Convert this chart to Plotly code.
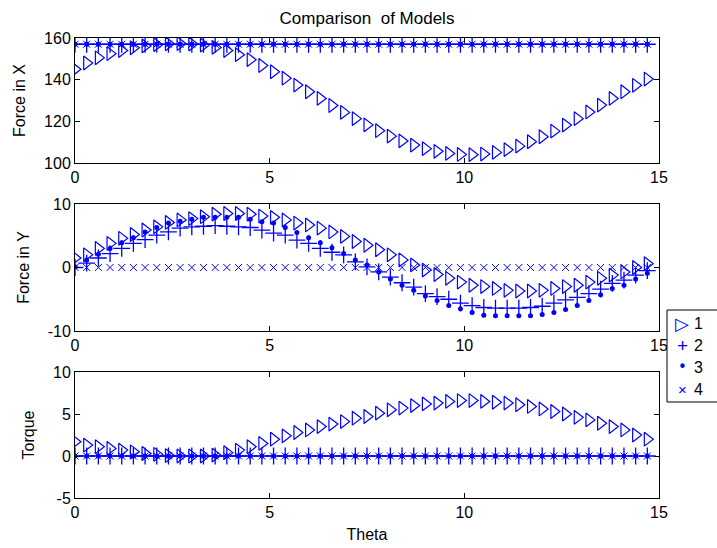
import plotly.graph_objects as go

theta = [0.0, 0.3, 0.6, 0.9, 1.2, 1.5, 1.8, 2.1, 2.4, 2.7,
         3.0, 3.3, 3.6, 3.9, 4.2, 4.5, 4.8, 5.1, 5.4, 5.7,
         6.0, 6.3, 6.6, 6.9, 7.2, 7.5, 7.8, 8.1, 8.4, 8.7,
         9.0, 9.3, 9.6, 9.9, 10.2, 10.5, 10.8, 11.1, 11.4, 11.7,
         12.0, 12.3, 12.6, 12.9, 13.2, 13.5, 13.8, 14.1, 14.4, 14.7]

# Force in X
fx1 = [145.0, 148.0, 150.5, 152.5, 154.0, 155.3, 156.2, 156.8, 157.2, 157.3,
       157.1, 156.6, 155.5, 154.0, 152.0, 149.6, 146.8, 143.8, 140.7, 137.4,
       134.2, 131.0, 127.6, 124.3, 121.3, 118.3, 115.5, 112.9, 110.6, 108.6,
       106.9, 105.6, 104.6, 104.1, 104.0, 104.3, 105.1, 106.4, 108.1, 110.2,
       112.6, 115.3, 118.2, 121.3, 124.5, 127.8, 131.0, 134.2, 137.3, 140.3]
fx_const = 157.0
fx2 = [fx_const] * len(theta)
fx3 = [fx_const] * len(theta)
fx4 = [fx_const] * len(theta)

# Force in Y
fy1 = [1.5, 2.0, 3.0, 3.8, 4.6, 5.2, 5.9, 6.4, 7.1, 7.5,
       7.7, 8.0, 8.4, 8.5, 8.5, 8.4, 8.1, 7.9, 7.5, 7.0,
       6.7, 6.2, 5.6, 4.9, 4.1, 3.5, 2.8, 2.0, 1.2, 0.4,
       -0.4, -1.1, -1.7, -2.3, -2.8, -3.0, -3.3, -3.6, -3.7, -3.7,
       -3.6, -3.3, -3.0, -2.8, -2.3, -1.7, -1.2, -0.7, 0.0, 0.6]
fy2 = [0.0, 0.7, 1.5, 2.2, 3.0, 3.8, 4.4, 5.1, 5.6, 6.2,
       6.4, 6.5, 6.6, 6.5, 6.4, 6.3, 5.9, 5.4, 5.1, 4.3,
       3.8, 3.0, 2.4, 2.0, 0.9, 0.1, -0.7, -1.5, -2.4, -3.1,
       -4.1, -4.6, -5.0, -5.6, -6.0, -6.3, -6.4, -6.4, -6.4, -6.3,
       -6.1, -5.6, -5.1, -4.7, -4.1, -3.4, -2.5, -2.0, -1.2, -0.5]
fy3 = [0.1, 1.2, 2.1, 3.0, 3.9, 4.7, 5.6, 6.3, 7.0, 7.3,
       7.6, 7.9, 7.9, 7.9, 7.9, 7.6, 7.2, 7.0, 6.3, 5.5,
       4.7, 3.9, 3.1, 2.2, 1.2, 0.4, -0.7, -1.8, -2.8, -3.6,
       -4.5, -5.2, -6.0, -6.5, -7.1, -7.5, -7.6, -7.6, -7.6, -7.6,
       -7.4, -7.1, -6.6, -6.0, -5.2, -4.3, -3.3, -2.8, -1.8, -0.9]
fy4 = [0.0] * len(theta)

# Torque
tq1 = [1.7, 1.3, 1.1, 0.9, 0.7, 0.5, 0.3, 0.2, 0.05, 0.0,
       0.0, 0.0, 0.1, 0.4, 0.7, 1.1, 1.5, 2.0, 2.4, 2.8,
       3.1, 3.5, 3.8, 4.1, 4.5, 4.7, 5.1, 5.5, 5.7, 6.0,
       6.2, 6.3, 6.5, 6.6, 6.6, 6.5, 6.4, 6.3, 6.1, 5.9,
       5.6, 5.3, 5.0, 4.6, 4.3, 3.9, 3.5, 3.1, 2.5, 2.0]
tq2 = [0.0] * len(theta)
tq3 = [0.0] * len(theta)
tq4 = [0.0] * len(theta)

series_names = ["1", "2", "3", "4"]
legend_glyphs = ["\u25b7", "+", "\u2022", "\u00d7"]
xticks = [0, 5, 10, 15]
yticks_top = [100, 120, 140, 160]
yticks_mid = [-10, 0, 10]
yticks_bot = [-5, 0, 5, 10]

BLUE = "rgb(0,0,255)"
FONT = "Liberation Sans, Arial, sans-serif"
W, H = 717, 548

markers = [
    dict(symbol="triangle-right-open", size=12, color=BLUE, line=dict(color=BLUE, width=1.2)),
    dict(symbol="cross-thin-open", size=12, color=BLUE, line=dict(color=BLUE, width=1.3)),
    dict(symbol="circle", size=5, color=BLUE, line=dict(color=BLUE, width=0)),
    dict(symbol="x-thin-open", size=7, color=BLUE, line=dict(color=BLUE, width=1)),
]

fig = go.Figure()
panels = [
    ("x", "y", [fx1, fx2, fx3, fx4]),
    ("x2", "y2", [fy1, fy2, fy3, fy4]),
    ("x3", "y3", [tq1, tq2, tq3, tq4]),
]
for pi, (xa, ya, ser) in enumerate(panels):
    for si, vals in enumerate(ser):
        fig.add_trace(go.Scatter(
            x=theta, y=vals, mode="markers", xaxis=xa, yaxis=ya,
            name=series_names[si], marker=markers[si],
            showlegend=False, hoverinfo="skip"))

def px_dom_y(top, bottom):
    return [1 - bottom / H, 1 - top / H]

xdom = [75 / W, 659 / W]
axis_common = dict(
    showline=True, linecolor="black", linewidth=1, mirror="ticks",
    ticks="inside", ticklen=5, tickcolor="black", showgrid=False,
    zeroline=False, automargin=False,
    tickfont=dict(family=FONT, size=16, color="black"),
)

def xaxis(anchor, title=None):
    d = dict(axis_common, domain=xdom, anchor=anchor, range=[0, 15],
             tickvals=xticks, ticktext=[str(t) for t in xticks])
    if title:
        d["title"] = dict(text=title, font=dict(family=FONT, size=16, color="black"), standoff=8)
    return d

def yaxis(anchor, dom, rng, ticks, title):
    return dict(axis_common, domain=dom, anchor=anchor, range=rng,
                tickvals=ticks, ticktext=[str(t) for t in ticks],
                title=dict(text=title, font=dict(family=FONT, size=16, color="black"), standoff=14))

# Legend box (drawn by hand so it can run off the right edge like the original)
leg_left, leg_top, leg_bottom = 667, 310, 402
row_y = [323, 345, 367, 389]
shapes = [dict(type="rect", xref="paper", yref="paper", layer="above",
               x0=leg_left / W, x1=1.05, y0=1 - leg_bottom / H, y1=1 - leg_top / H,
               line=dict(color="black", width=1), fillcolor="white")]
annotations = []
glyph_fonts = [("DejaVu Sans, sans-serif", 18),
               ("Liberation Sans, Arial, sans-serif", 19),
               ("DejaVu Sans, sans-serif", 15),
               ("Liberation Sans, Arial, sans-serif", 15)]
for i, name in enumerate(series_names):
    fam, sz = glyph_fonts[i]
    annotations.append(dict(xref="paper", yref="paper", x=682 / W, y=1 - row_y[i] / H,
                            text=legend_glyphs[i], showarrow=False, xanchor="center",
                            yanchor="middle",
                            font=dict(family=fam, size=sz, color=BLUE)))
    annotations.append(dict(xref="paper", yref="paper", x=692 / W, y=1 - row_y[i] / H,
                            text=name, showarrow=False, xanchor="left", yanchor="middle",
                            font=dict(family=FONT, size=16, color="black")))

fig.update_layout(
    width=W, height=H,
    margin=dict(l=0, r=0, t=0, b=0, autoexpand=False),
    paper_bgcolor="white", plot_bgcolor="white",
    xaxis=xaxis("y"),
    yaxis=yaxis("x", px_dom_y(38, 163), [100, 160], yticks_top, "Force in X"),
    xaxis2=xaxis("y2"),
    yaxis2=yaxis("x2", px_dom_y(204, 331), [-10, 10], yticks_mid, "Force in Y"),
    xaxis3=xaxis("y3", "Theta"),
    yaxis3=yaxis("x3", px_dom_y(372, 498), [-5, 10], yticks_bot, "Torque"),
    title=dict(text="Comparison\u00a0 of Models", x=367 / W, xanchor="center",
               y=1 - 18 / H, yanchor="middle", automargin=False,
               font=dict(family=FONT, size=17, color="black")),
    showlegend=False,
    hovermode=False,
    shapes=shapes,
    annotations=annotations,
)

fig.write_html("out.html",
               config={"displayModeBar": False, "staticPlot": True},
               post_script="document.body.style.margin='0px';"
                           "document.body.style.overflow='hidden';")
